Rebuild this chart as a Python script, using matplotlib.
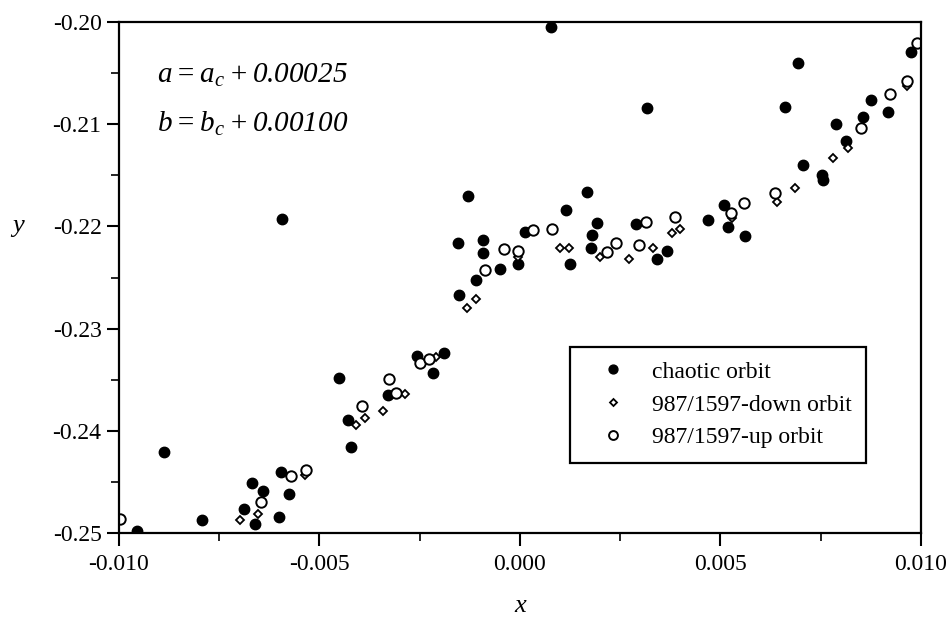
import matplotlib
matplotlib.use('Agg')
import matplotlib.pyplot as plt
from matplotlib.ticker import MultipleLocator

plt.rcParams['font.family'] = ['Liberation Serif', 'DejaVu Serif']
plt.rcParams['mathtext.fontset'] = 'custom'
plt.rcParams['mathtext.rm'] = 'Liberation Serif:italic'
plt.rcParams['mathtext.it'] = 'Liberation Serif:italic'

# chaotic orbit (filled circles)
chaotic_x = [-0.00593, -0.00451, -0.00329, -0.00430, -0.00422, -0.00887, -0.00596,
             -0.00669, -0.00640, -0.00575, -0.00688, -0.00794, -0.00601, -0.00661,
             -0.00956, 0.00077, 0.00316, -0.00130, 0.00168, 0.00116, -0.00154,
             -0.00092, -0.00092, -0.00004, -0.00050, -0.00110, -0.00151, 0.00012,
             0.00125, 0.00191, 0.00180, 0.00176, 0.00289, 0.00342, 0.00366,
             -0.00258, -0.00189, -0.00216, 0.00694, 0.00661, 0.00974, 0.00875,
             0.00917, 0.00856, 0.00788, 0.00812, 0.00707, 0.00754, 0.00756,
             0.00509, 0.00468, 0.00520, 0.00561]
chaotic_y = [-0.2193, -0.2348, -0.2365, -0.2389, -0.2416, -0.2421, -0.2440,
             -0.2451, -0.2459, -0.2462, -0.2477, -0.2487, -0.2484, -0.2491,
             -0.2498, -0.2005, -0.2084, -0.2170, -0.2166, -0.2184, -0.2216,
             -0.2213, -0.2226, -0.2237, -0.2242, -0.2252, -0.2267, -0.2205,
             -0.2237, -0.2197, -0.2208, -0.2221, -0.2198, -0.2232, -0.2224,
             -0.2327, -0.2324, -0.2343, -0.2040, -0.2083, -0.2029, -0.2076,
             -0.2088, -0.2093, -0.2100, -0.2116, -0.2140, -0.2150, -0.2155,
             -0.2179, -0.2194, -0.2201, -0.2209]

# 987/1597-down orbit (small diamonds)
down_x = [-0.00287, -0.00387, -0.00341, -0.00409, -0.00536, -0.00653, -0.00698,
          -0.00004, -0.00110, -0.00131, 0.00101, 0.00122, 0.00200, 0.00273,
          0.00332, 0.00378, 0.00399, -0.00210, 0.00966, 0.00819, 0.00780,
          0.00686, 0.00640, 0.00528]
down_y = [-0.2364, -0.2387, -0.2381, -0.2394, -0.2443, -0.2481, -0.2487,
          -0.2230, -0.2271, -0.2280, -0.2221, -0.2221, -0.2230, -0.2232,
          -0.2221, -0.2206, -0.2203, -0.2328, -0.2063, -0.2123, -0.2133,
          -0.2162, -0.2176, -0.2192]

# 987/1597-up orbit (open circles)
up_x = [-0.00326, -0.00310, -0.00395, -0.00571, -0.00534, -0.00647, -0.00998,
        -0.00040, -0.00004, -0.00087, 0.00033, 0.00079, 0.00216, 0.00239,
        0.00314, 0.00298, 0.00387, -0.00249, -0.00226, 0.00989, 0.00964,
        0.00924, 0.00850, 0.00636, 0.00559, 0.00526]
up_y = [-0.2349, -0.2363, -0.2376, -0.2444, -0.2438, -0.2470, -0.2486,
        -0.2222, -0.2224, -0.2243, -0.2204, -0.2203, -0.2225, -0.2216,
        -0.2196, -0.2218, -0.2191, -0.2334, -0.2330, -0.2021, -0.2058,
        -0.2070, -0.2104, -0.2167, -0.2177, -0.2187]

fig = plt.figure(figsize=(9.51, 6.22), dpi=100)
ax = fig.add_axes([0.1251, 0.1431, 0.8433, 0.8215])

ax.plot(chaotic_x, chaotic_y, 'o', color='black', markersize=7.5,
        linestyle='none', label='chaotic orbit')
ax.plot(down_x, down_y, 'D', markerfacecolor='white', markeredgecolor='black',
        markeredgewidth=1.3, markersize=4.2, linestyle='none',
        label='987/1597-down orbit')
ax.plot(up_x, up_y, 'o', markerfacecolor='white', markeredgecolor='black',
        markeredgewidth=1.4, markersize=7.5, linestyle='none',
        label='987/1597-up orbit')

ax.set_xlim(-0.010, 0.010)
ax.set_ylim(-0.25, -0.20)
ax.xaxis.set_major_locator(MultipleLocator(0.005))
ax.xaxis.set_minor_locator(MultipleLocator(0.0025))
ax.yaxis.set_major_locator(MultipleLocator(0.01))
ax.yaxis.set_minor_locator(MultipleLocator(0.005))
ax.set_xticklabels([f'{v:.3f}' for v in ax.get_xticks()])
ax.set_yticklabels([f'{v:.2f}' for v in ax.get_yticks()])
ax.tick_params(which='major', direction='out', length=9, width=1.5, labelsize=17)
ax.tick_params(which='minor', direction='out', length=6, width=1.2)
ax.tick_params(axis='x', pad=6)
for sp in ax.spines.values():
    sp.set_linewidth(1.6)

ax.set_xlabel('x', fontsize=19, style='italic', va='center')
ax.xaxis.set_label_coords(0.5, -0.142)
ax.set_ylabel('y', fontsize=19, style='italic', rotation=0, va='center', ha='center')
ax.yaxis.set_label_coords(-0.126, 0.60)

ax.text(0.047, 0.895, r'$a = a_{c} + 0.00025$', transform=ax.transAxes,
        fontsize=21, va='center', ha='left')
ax.text(0.047, 0.80, r'$b = b_{c} + 0.00100$', transform=ax.transAxes,
        fontsize=21, va='center', ha='left')

leg = ax.legend(loc='upper left', bbox_to_anchor=(0.562, 0.364), borderaxespad=0,
                fontsize=17, fancybox=False, framealpha=1, edgecolor='black',
                markerscale=0.85, handletextpad=0.43, borderpad=0.6,
                labelspacing=0.48, handlelength=2.44)
leg.get_frame().set_linewidth(1.6)

plt.savefig('out.png', dpi=100)
